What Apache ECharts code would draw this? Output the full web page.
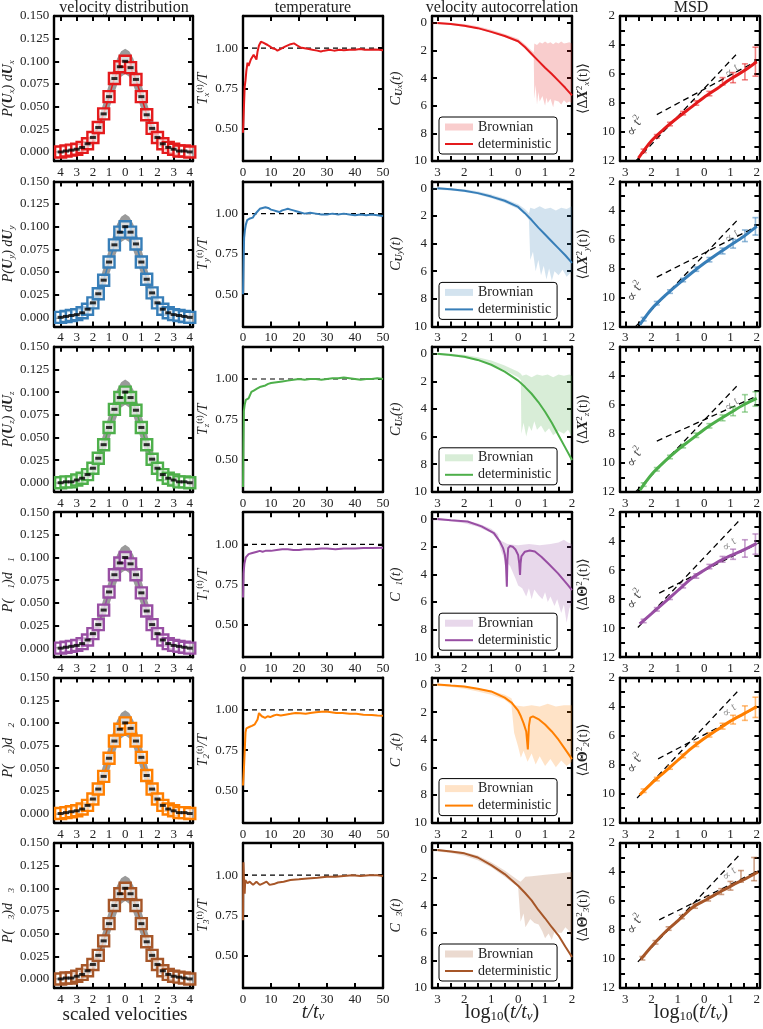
<!DOCTYPE html>
<html><head><meta charset="utf-8">
<script src="https://cdn.jsdelivr.net/npm/echarts@6/dist/echarts.min.js"></script>
<style>html,body{margin:0;padding:0;background:#fff}#c{width:763px;height:1029px}</style>
</head><body><div id="c"></div>
<script>
// ================= DATA =================
const rowTags = ['x','y','z','1','2','3'];
const rowColors = ['#e41a1c','#377eb8','#4daf4a','#984ea3','#ff7f00','#a65628'];
const rowLight = ['rgba(228,26,28,0.22)','rgba(55,126,184,0.22)','rgba(77,175,74,0.22)','rgba(152,78,163,0.22)','rgba(255,127,0,0.22)','rgba(166,86,40,0.22)'];

// tick / label values
const distXTicks = [-4,-3,-2,-1,0,1,2,3,4];
const distYTicks = [0,0.025,0.05,0.075,0.1,0.125,0.15];
const tempXTicks = [0,10,20,30,40,50];
const tempYTicks = [0.5,0.75,1.0];
const logXTicks = [-3,-2.5,-2,-1.5,-1,-0.5,0,0.5,1,1.5,2];
const logXLabels = [-3,-2,-1,0,1,2];
const vacfYTicks = [0,2,4,6,8,10];
const msdYTicks = [2,3,4,5,6,7,8,9,10,11,12];
const msdYLabels = [2,4,6,8,10,12];

// velocity distribution
const distX = [-4,-3.667,-3.333,-3,-2.667,-2.333,-2,-1.667,-1.333,-1,-0.667,-0.333,0,0.333,0.667,1,1.333,1.667,2,2.333,2.667,3,3.333,3.667,4];
const distPx = [0.000,0.001,0.002,0.003,0.005,0.009,0.016,0.027,0.042,0.061,0.081,0.094,0.100,0.093,0.080,0.061,0.041,0.026,0.016,0.009,0.005,0.003,0.001,0.001,0.000];
const distPy = [0.000,0.001,0.002,0.003,0.005,0.009,0.016,0.026,0.041,0.061,0.080,0.094,0.100,0.094,0.081,0.061,0.042,0.027,0.016,0.009,0.005,0.003,0.002,0.001,0.000];
const distPz = [0.000,0.001,0.001,0.003,0.005,0.009,0.016,0.027,0.042,0.061,0.081,0.094,0.100,0.094,0.080,0.061,0.042,0.026,0.016,0.009,0.005,0.003,0.001,0.001,0.000];
const distP1 = [0.000,0.001,0.002,0.003,0.005,0.009,0.016,0.026,0.042,0.062,0.081,0.094,0.100,0.093,0.081,0.061,0.041,0.026,0.016,0.009,0.005,0.003,0.002,0.001,0.000];
const distP2 = [0.000,0.001,0.002,0.003,0.005,0.009,0.016,0.027,0.041,0.061,0.080,0.093,0.100,0.094,0.080,0.062,0.042,0.027,0.016,0.009,0.005,0.003,0.001,0.001,0.000];
const distP3 = [0.000,0.001,0.001,0.003,0.005,0.009,0.016,0.026,0.042,0.061,0.081,0.094,0.100,0.094,0.081,0.061,0.041,0.026,0.016,0.009,0.005,0.003,0.002,0.001,0.000];
// grey reference band (upper / lower edge)
const bandX  = [-4.4,-4,-3.5,-3,-2.5,-2,-1.5,-1,-0.75,-0.5,-0.25,0,0.25,0.5,0.75,1,1.5,2,2.5,3,3.5,4,4.2];
const bandHi = [0.000,0.001,0.001,0.003,0.009,0.021,0.045,0.075,0.090,0.103,0.111,0.114,0.111,0.103,0.090,0.075,0.045,0.021,0.009,0.003,0.001,0.001,0.000];
const bandLo = [-0.001,-0.001,-0.001,0.000,0.002,0.008,0.021,0.047,0.061,0.074,0.083,0.086,0.083,0.074,0.061,0.047,0.021,0.008,0.002,0.000,-0.001,-0.001,-0.001];

// temperature [t/t_nu, T/T]
const tempX = [[0,0.475],[0.3,0.62],[0.6,0.76],[0.9,0.80],[1.2,0.86],[1.6,0.91],[2.0,0.89],[2.4,0.90],[2.8,0.93],[3.3,0.94],[3.8,0.96],[4.2,0.955],[4.8,0.93],[5.2,0.98],[5.7,1.017],[6.4,1.04],[7.2,1.035],[7.9,1.03],[8.8,1.02],[9.7,1.01],[10.5,1.0],[11.5,0.995],[12.3,0.985],[13,0.978],[14,1.0],[15,1.01],[15.7,1.017],[17,1.025],[18.2,1.03],[19.4,1.017],[20.5,1.005],[22,1.0],[23.5,0.995],[24.8,0.99],[26.5,0.985],[27.8,0.98],[29,0.985],[30.9,0.99],[32.5,0.985],[34.5,0.99],[36,0.988],[38,0.99],[40,0.99],[41.8,0.995],[43.5,0.99],[45.4,0.99],[47,0.992],[48.5,0.99],[50,0.988]];
const tempY = [[0,0.5],[0.2,0.7],[0.4,0.85],[0.7,0.9],[1,0.93],[1.5,0.96],[2,0.95],[2.5,0.97],[3,0.98],[3.5,0.975],[4,0.99],[4.5,1.0],[5,1.01],[5.5,1.02],[6,1.03],[7,1.035],[8,1.04],[9,1.035],[10,1.025],[11,1.02],[12,1.015],[13,1.01],[14,1.02],[15,1.025],[16,1.03],[17,1.025],[18,1.02],[19,1.015],[20,1.01],[22,1.0],[24,1.005],[26,1.0],[28,0.995],[30,0.995],[32,1.0],[34,0.995],[36,1.0],[38,0.995],[40,0.99],[42,0.995],[44,0.99],[46,0.995],[48,0.99],[50,0.985]];
const tempZ = [[0,0.33],[0.15,0.6],[0.3,0.8],[0.6,0.84],[1,0.87],[1.5,0.88],[2,0.88],[2.5,0.9],[3,0.92],[3.5,0.91],[4,0.93],[5,0.94],[6,0.95],[7,0.955],[8,0.96],[9,0.97],[10,0.975],[12,0.98],[14,0.985],[16,0.99],[18,0.995],[20,1.0],[22,0.995],[24,1.0],[26,1.0],[28,0.995],[30,1.0],[32,1.005],[34,1.005],[36,1.01],[38,1.005],[40,1.0],[42,0.995],[44,1.0],[46,1.0],[48,1.005],[50,1.0]];
const temp1 = [[0,0.67],[0.2,0.82],[0.5,0.88],[1,0.92],[1.5,0.93],[2,0.94],[3,0.945],[4,0.95],[5,0.955],[6,0.96],[7,0.955],[8,0.96],[10,0.96],[12,0.965],[14,0.97],[16,0.97],[18,0.965],[20,0.965],[22,0.97],[25,0.97],[28,0.975],[30,0.975],[33,0.97],[36,0.975],[40,0.975],[43,0.978],[46,0.978],[50,0.98]];
const temp2 = [[0,0.53],[0.3,0.62],[0.6,0.74],[0.9,0.86],[1.2,0.885],[1.8,0.88],[2.4,0.895],[3.2,0.9],[4.2,0.91],[4.8,0.92],[5.2,0.94],[5.7,0.98],[6.2,0.97],[6.7,0.96],[7.3,0.955],[7.9,0.95],[8.8,0.96],[9.7,0.955],[11,0.965],[12.1,0.97],[13.5,0.965],[15.1,0.97],[17,0.975],[18.8,0.98],[20.5,0.978],[22.4,0.975],[24,0.98],[26,0.985],[28,0.988],[29.7,0.99],[31.5,0.985],[33.3,0.98],[35.5,0.98],[38.1,0.975],[40.5,0.975],[43,0.97],[46,0.968],[48,0.965],[50,0.963]];
const temp3 = [[0,0.72],[0.15,1.08],[0.4,0.95],[0.6,0.885],[0.8,0.97],[1.2,0.97],[1.6,0.95],[2.4,0.96],[3.6,0.94],[4.8,0.96],[6,0.94],[7.2,0.95],[8.4,0.96],[9.5,0.94],[11,0.945],[12.5,0.955],[14.5,0.96],[16.9,0.97],[20,0.975],[23,0.98],[26.6,0.985],[30,0.99],[33,0.99],[36,0.995],[39,1.0],[42,0.995],[45,1.0],[48,1.0],[50,0.995]];

// velocity autocorrelation, deterministic [log10 t, value]
const detX = [[-3,0],[-2.5,0.08],[-2,0.2],[-1.5,0.38],[-1,0.65],[-0.5,0.95],[0,1.33],[0.25,1.75],[0.5,2.25],[0.75,2.75],[1,3.25],[1.25,3.7],[1.5,4.2],[1.75,4.7],[2,5.25]];
const detY = [[-3,0],[-2.5,0.07],[-2,0.18],[-1.5,0.35],[-1,0.6],[-0.5,0.9],[0,1.35],[0.25,1.8],[0.5,2.3],[0.75,2.85],[1,3.35],[1.25,3.85],[1.5,4.35],[1.75,4.85],[2,5.4]];
const detZ = [[-3,0],[-2.5,0.1],[-2,0.22],[-1.5,0.45],[-1,0.8],[-0.5,1.3],[0,1.95],[0.25,2.4],[0.5,2.9],[0.75,3.5],[1,4.2],[1.25,5.0],[1.5,5.9],[1.75,6.8],[2,7.7]];
const det1 = [[-3,0],[-2.5,0.08],[-1.88,0.17],[-1.36,0.53],[-0.9,1.02],[-0.68,1.63],[-0.56,2.1],[-0.49,2.6],[-0.45,3.4],[-0.42,4.9],[-0.40,3.0],[-0.37,2.1],[-0.3,1.95],[-0.2,2.0],[-0.1,2.2],[0,2.6],[0.04,3.2],[0.07,4.05],[0.09,3.2],[0.12,2.7],[0.25,2.36],[0.43,2.28],[0.62,2.35],[0.86,2.72],[1.11,3.2],[1.48,3.93],[1.85,4.78],[2,5.15]];
const det2 = [[-3,0],[-2.5,0.08],[-2,0.15],[-1.5,0.3],[-1,0.5],[-0.5,0.95],[-0.25,1.3],[0,1.9],[0.1,2.3],[0.2,2.8],[0.3,3.4],[0.36,4.7],[0.4,3.0],[0.45,2.4],[0.55,2.3],[0.75,2.5],[1,2.9],[1.25,3.4],[1.5,4.0],[1.75,4.7],[2,5.4]];
const det3 = [[-3,0],[-2.5,0.12],[-2,0.25],[-1.5,0.55],[-1,1.1],[-0.5,1.75],[0,2.6],[0.25,3.1],[0.5,3.65],[0.75,4.35],[1,4.95],[1.25,5.6],[1.5,6.2],[1.75,7.0],[2,7.75]];
// Brownian envelope: upper edge (small values) and lower edge (large values)
const brTopX = [[-3.2,-0.05],[-3,-0.05],[-2.5,0.0],[-2,0.08],[-1.5,0.25],[-1,0.5],[-0.5,0.8],[0,1.15],[0.25,1.55],[0.5,2.0],[0.58,2.15],[0.6,1.5],[0.7,1.6],[0.8,1.4],[0.9,1.5],[1.0,1.35],[1.1,1.5],[1.2,1.4],[1.3,1.55],[1.4,1.4],[1.5,1.5],[1.6,1.35],[1.7,1.5],[1.8,1.45],[1.9,1.4],[2.0,1.5]];
const brBotX = [[-3.2,0.1],[-3,0.1],[-2.5,0.15],[-2,0.27],[-1.5,0.45],[-1,0.72],[-0.5,1.02],[0,1.42],[0.25,1.85],[0.5,2.35],[0.58,2.55],[0.6,5.5],[0.65,4.5],[0.7,5.9],[0.75,5.0],[0.8,5.7],[0.9,5.3],[1.0,6.0],[1.05,5.4],[1.1,5.8],[1.2,5.5],[1.3,6.1],[1.35,5.6],[1.5,5.7],[1.6,5.9],[1.7,5.6],[1.8,5.8],[1.9,5.7],[2.0,5.8]];
const brTopY = [[-3.2,-0.05],[-3,-0.05],[-2.5,0],[-2,0.07],[-1.5,0.22],[-1,0.45],[-0.5,0.75],[0,1.15],[0.25,1.5],[0.4,1.8],[0.45,1.4],[0.6,1.5],[0.8,1.3],[1.0,1.5],[1.2,1.4],[1.4,1.6],[1.6,1.4],[1.8,1.5],[2.0,1.3]];
const brBotY = [[-3.2,0.1],[-3,0.1],[-2.5,0.15],[-2,0.27],[-1.5,0.45],[-1,0.72],[-0.5,1.05],[0,1.5],[0.25,1.9],[0.4,2.3],[0.45,5.2],[0.55,4.6],[0.65,6.0],[0.75,5.2],[0.85,6.3],[0.95,5.6],[1.05,6.6],[1.15,5.8],[1.25,6.7],[1.35,6.0],[1.5,6.3],[1.65,5.9],[1.8,6.4],[2.0,6.0]];
const brTopZ = [[-3.2,-0.05],[-3,-0.05],[-2.5,0],[-2,0.08],[-1.5,0.25],[-1,0.5],[-0.5,0.85],[0,1.3],[0.1,1.45],[0.15,1.6],[0.3,1.5],[0.5,1.7],[0.7,1.5],[0.9,1.6],[1.1,1.5],[1.3,1.7],[1.5,1.5],[1.7,1.6],[1.9,1.5],[2.0,1.6]];
const brBotZ = [[-3.2,0.1],[-3,0.1],[-2.5,0.18],[-2,0.3],[-1.5,0.52],[-1,0.82],[-0.5,1.2],[0,1.7],[0.1,1.9],[0.12,5.8],[0.2,5.0],[0.3,6.0],[0.4,5.2],[0.5,5.6],[0.6,4.9],[0.7,5.5],[0.85,5.2],[1.0,5.7],[1.15,5.4],[1.3,5.9],[1.5,5.6],[1.7,5.8],[1.85,5.5],[2.0,6.0]];
const brTop1 = [[-3.2,-0.05],[-3,-0.05],[-2.5,0.02],[-2,0.1],[-1.5,0.3],[-1,0.7],[-0.75,1.1],[-0.7,1.5],[-0.4,1.8],[0,1.9],[0.4,1.8],[0.8,1.9],[1.2,1.8],[1.5,1.7],[1.7,1.5],[1.85,1.7],[2.0,1.8]];
const brBot1 = [[-3.2,0.1],[-3,0.1],[-2.5,0.15],[-2,0.3],[-1.5,0.55],[-1,1.0],[-0.75,1.5],[-0.65,2.2],[-0.5,3.0],[-0.3,3.4],[-0.1,4.3],[0,4.8],[0.15,5.0],[0.3,5.6],[0.4,5.0],[0.5,5.8],[0.6,5.1],[0.75,5.5],[0.9,5.8],[1.0,5.3],[1.1,6.0],[1.2,5.6],[1.35,6.3],[1.45,5.8],[1.6,6.8],[1.7,6.2],[1.8,7.5],[1.9,6.5],[2.0,6.0]];
const brTop2 = [[-3.2,-0.05],[-3,-0.05],[-2.5,0.02],[-2,0.1],[-1.5,0.25],[-1,0.45],[-0.5,0.75],[-0.25,1.0],[-0.15,1.5],[0.2,1.6],[0.5,1.5],[0.8,1.6],[1.1,1.4],[1.4,1.6],[1.7,1.5],[2.0,1.5]];
const brBot2 = [[-3.2,0.1],[-3,0.1],[-2.5,0.18],[-2,0.3],[-1.5,0.5],[-1,0.75],[-0.5,1.1],[-0.25,1.5],[-0.15,3.5],[0,4.5],[0.1,5.3],[0.2,4.8],[0.35,5.6],[0.5,5.0],[0.65,5.8],[0.8,5.2],[1.0,5.9],[1.2,5.4],[1.4,6.0],[1.6,5.5],[1.8,5.9],[2.0,5.6]];
const brTop3 = [[-3.2,-0.05],[-3,-0.05],[-2.5,0.05],[-2,0.15],[-1.5,0.4],[-1,0.9],[-0.5,1.5],[0,2.2],[0.09,2.3],[0.27,1.94],[0.5,1.9],[1.0,1.8],[1.5,1.7],[2.0,1.6]];
const brBot3 = [[-3.2,0.1],[-3,0.12],[-2.5,0.22],[-2,0.42],[-1.5,0.75],[-1,1.25],[-0.5,1.95],[0,2.7],[0.09,5.2],[0.2,4.6],[0.27,5.6],[0.45,5.0],[0.6,5.3],[0.76,5.4],[0.9,5.9],[1.0,6.4],[1.13,6.05],[1.25,6.5],[1.37,5.8],[1.5,6.0],[1.62,6.0],[1.75,5.6],[1.86,5.8],[2.0,6.3]];

// MSD [log10 t, value]
const msdX = [[-2.5,11.8],[-2,10.6],[-1.5,9.75],[-1,9.0],[-0.5,8.3],[0,7.6],[0.5,7.0],[1,6.35],[1.5,5.8],[2,5.15]];
const msdY = [[-2.45,11.9],[-2,10.8],[-1.5,9.9],[-1,9.1],[-0.5,8.35],[0,7.65],[0.5,7.0],[1,6.4],[1.5,5.8],[2,5.1]];
const msdZ = [[-2.45,11.9],[-2,10.8],[-1.5,9.9],[-1,9.1],[-0.5,8.4],[0,7.7],[0.5,7.1],[1,6.55],[1.5,6.0],[2,5.55]];
const msd1 = [[-2.45,9.7],[-2,9.0],[-1.5,8.2],[-1,7.4],[-0.5,6.6],[0,6.0],[0.5,5.45],[1,5.0],[1.5,4.6],[2,4.15]];
const msd2 = [[-2.45,10.1],[-2,9.3],[-1.5,8.5],[-1,7.7],[-0.5,6.9],[0,6.2],[0.5,5.6],[1,5.0],[1.5,4.5],[2,4.0]];
const msd3 = [[-2.4,10.0],[-1.9,8.93],[-1.4,8.0],[-0.9,7.2],[-0.41,6.4],[0.09,5.9],[0.58,5.4],[1.08,4.9],[1.58,4.46],[2.05,4.0]];
// error bars [log10 t, value, half-width]
const errX = [[-2.3,11.3,0.12],[-1.8,10.3,0.12],[-1.3,9.45,0.12],[-0.8,8.7,0.12],[-0.3,8.0,0.15],[0.2,7.35,0.15],[0.7,6.5,0.25],[1.1,6.25,0.35],[1.55,5.85,0.55],[1.95,5.15,1.0]];
const errY = [[-2.3,11.5,0.12],[-1.8,10.4,0.12],[-1.3,9.6,0.12],[-0.8,8.8,0.12],[-0.3,8.05,0.15],[0.2,7.4,0.15],[0.7,6.8,0.2],[1.1,6.3,0.3],[1.55,5.75,0.4],[1.95,5.1,0.6]];
const errZ = [[-2.3,11.5,0.12],[-1.8,10.45,0.12],[-1.3,9.6,0.12],[-0.8,8.85,0.12],[-0.3,8.1,0.15],[0.2,7.45,0.15],[0.7,6.9,0.2],[1.1,6.45,0.3],[1.55,5.9,0.6],[1.95,5.6,0.5]];
const err1 = [[-2.3,9.5,0.12],[-1.8,8.7,0.12],[-1.3,7.9,0.12],[-0.8,7.1,0.12],[-0.3,6.4,0.15],[0.2,5.75,0.15],[0.7,5.25,0.2],[1.1,4.9,0.35],[1.55,4.5,0.6],[1.95,4.2,0.7]];
const err2 = [[-2.3,9.8,0.12],[-1.8,9.0,0.12],[-1.3,8.2,0.12],[-0.8,7.4,0.12],[-0.3,6.6,0.15],[0.2,5.95,0.15],[0.7,5.35,0.2],[1.1,4.9,0.3],[1.55,4.45,0.5],[1.95,4.05,0.7]];
const err3 = [[-2.35,9.95,0.12],[-1.85,8.85,0.12],[-1.35,7.9,0.12],[-0.85,7.1,0.12],[-0.35,6.35,0.15],[0.15,5.85,0.15],[0.65,5.35,0.2],[1.0,4.95,0.3],[1.4,4.3,0.4],[1.9,3.8,0.8]];
// guide lines (proportional to t^2 and t)
const guideT2 = [[[-2.6,12.0],[1.3,4.5]],[[-2.6,12.0],[1.3,4.6]],[[-2.6,12.0],[1.3,4.6]],[[-2.52,9.95],[1.39,2.47]],[[-2.55,10.3],[1.35,2.8]],[[-2.52,10.2],[1.33,2.85]]];
const guideT1 = [[[-1.8,8.8],[2.0,5.1]],[[-1.8,8.6],[2.0,5.1]],[[-1.8,8.5],[2.0,5.4]],[[-1.71,7.58],[2.1,4.1]],[[-1.75,7.6],[2.05,4.0]],[[-1.71,7.3],[2.07,3.9]]];
const labelT2Pos = [[-2.62,9.6],[-2.62,9.6],[-2.62,9.6],[-2.62,8.0],[-2.62,7.9],[-2.62,7.6]];
const labelT1Pos = [[1.05,5.8],[1.05,5.8],[1.05,6.0],[0.95,4.25],[0.95,4.3],[0.95,4.15]];

// ================= BUILD =================
const distRows = [distPx,distPy,distPz,distP1,distP2,distP3];
const tempRows = [tempX,tempY,tempZ,temp1,temp2,temp3];
const detRows  = [detX,detY,detZ,det1,det2,det3];
const brTopRows = [brTopX,brTopY,brTopZ,brTop1,brTop2,brTop3];
const brBotRows = [brBotX,brBotY,brBotZ,brBot1,brBot2,brBot3];
const msdRows = [msdX,msdY,msdZ,msd1,msd2,msd3];
const errRows = [errX,errY,errZ,err1,err2,err3];

const FONT = '"Liberation Serif","DejaVu Serif",serif';
const colLeft = [54,243,432,620], colW = [139,140,140,142];
const TOP0 = 16, STEP = 165.4, H = 145;

const R = {
  i:{fontFamily:FONT,fontStyle:'italic',fontSize:14,color:'#222',lineHeight:16},
  n:{fontFamily:FONT,fontSize:14,color:'#222',lineHeight:16},
  b:{fontFamily:FONT,fontStyle:'italic',fontWeight:'bold',fontSize:14,color:'#222',lineHeight:16},
  bn:{fontFamily:FONT,fontWeight:'bold',fontSize:14,color:'#222',lineHeight:16},
  s:{fontFamily:FONT,fontStyle:'italic',fontSize:9,color:'#222',lineHeight:9,verticalAlign:'bottom',padding:[5,0,0,0]},
  sb:{fontFamily:FONT,fontStyle:'italic',fontWeight:'bold',fontSize:10,color:'#222',lineHeight:10,verticalAlign:'bottom',padding:[5,0,0,0]},
  p:{fontFamily:FONT,fontSize:9,color:'#222',lineHeight:9,verticalAlign:'top',padding:[0,0,5,0]}
};

const grids=[], xAxes=[], yAxes=[], series=[], legends=[];

function panel(row,col,ax){
  const gi = grids.length;
  grids.push({left:colLeft[col], top:TOP0+row*STEP, width:colW[col], height:H});
  const line = {show:true,onZero:false,lineStyle:{color:'#000',width:2.4}};
  const tick = v => ({show:true,inside:true,length:5,customValues:v,lineStyle:{color:'#000',width:2}});
  const lbl = (v,f) => ({show:true,customValues:v,formatter:f,color:'#222',fontFamily:FONT,fontSize:13,margin:5});
  const xi = xAxes.length;
  xAxes.push({type:'value',gridIndex:gi,position:'bottom',min:ax.xmin,max:ax.xmax,axisLine:line,axisTick:tick(ax.xticks),axisLabel:lbl(ax.xlabels,ax.xfmt),splitLine:{show:false}});
  xAxes.push({type:'value',gridIndex:gi,position:'top',min:ax.xmin,max:ax.xmax,axisLine:line,axisTick:tick(ax.xticks),axisLabel:{show:false},splitLine:{show:false}});
  const yi = yAxes.length;
  yAxes.push({type:'value',gridIndex:gi,position:'left',min:ax.ymin,max:ax.ymax,inverse:!!ax.inv,axisLine:line,axisTick:tick(ax.yticks),axisLabel:lbl(ax.ylabels,ax.yfmt),splitLine:{show:false},
    name:ax.name,nameLocation:'middle',nameGap:ax.nameGap,nameRotate:90,nameTextStyle:{rich:R}});
  yAxes.push({type:'value',gridIndex:gi,position:'right',min:ax.ymin,max:ax.ymax,inverse:!!ax.inv,axisLine:line,axisTick:tick(ax.yticks),axisLabel:{show:false},splitLine:{show:false}});
  return {xi, yi};
}

function polygonSeries(name, pts, color, xi, yi, z){
  return {type:'custom',name,xAxisIndex:xi,yAxisIndex:yi,z,silent:true,data:pts,encode:{x:0,y:1},
    itemStyle:{color},
    renderItem:(params,api)=>{
      if(params.dataIndex!==0) return null;
      return {type:'polygon',shape:{points:pts.map(p=>api.coord(p))},style:{fill:color}};
    }};
}

const absFmt = v => String(Math.abs(Math.round(v*100)/100));

for(let r=0;r<6;r++){
  const t = rowTags[r], c = rowColors[r], lc = rowLight[r];
  const rot = r>=3;
  // ---- column 1: velocity distribution
  let p = panel(r,0,{xmin:-4.4,xmax:4.2,ymin:-0.01,ymax:0.15,xticks:distXTicks,xlabels:distXTicks,xfmt:absFmt,
    yticks:distYTicks,ylabels:distYTicks,yfmt:v=>v.toFixed(3),nameGap:30,
    name: rot ? `{i|P(}{n|   }{s|${t}}{i|)d}{n|   }{s|${t}}` : `{i|P(}{b|U}{s|${t}}{i|) d}{b|U}{s|${t}}`});
  const bandPoly = bandX.map((x,i)=>[x,bandHi[i]]).concat(bandX.map((x,i)=>[x,bandLo[i]]).reverse());
  series.push(polygonSeries('band'+r, bandPoly, '#9a9a9a', p.xi, p.yi, 1));
  const pts = distX.map((x,i)=>[x,distRows[r][i]]);
  series.push({type:'line',xAxisIndex:p.xi,yAxisIndex:p.yi,data:pts,symbol:'none',lineStyle:{color:c,width:1.5},z:2,silent:true});
  series.push({type:'scatter',xAxisIndex:p.xi,yAxisIndex:p.yi,data:pts,symbol:'rect',symbolSize:11,z:3,silent:true,
    itemStyle:{color:'rgba(255,255,255,0.65)',borderColor:c,borderWidth:2.4,opacity:1}});
  series.push({type:'scatter',xAxisIndex:p.xi,yAxisIndex:p.yi,data:pts,symbol:'rect',symbolSize:[6,3],z:4,silent:true,itemStyle:{color:'#000'}});

  // ---- column 2: temperature
  p = panel(r,1,{xmin:0,xmax:50,ymin:0.3,ymax:1.2,xticks:tempXTicks,xlabels:tempXTicks,xfmt:v=>String(v),
    yticks:tempYTicks,ylabels:tempYTicks,yfmt:v=>v.toFixed(2),nameGap:18,
    name:`{i|T}{s|${t}}{p|(t)}{i|/T}`});
  series.push({type:'line',xAxisIndex:p.xi,yAxisIndex:p.yi,data:[[0,1],[50,1]],symbol:'none',z:2,silent:true,lineStyle:{color:'#000',width:1.2,type:[5,4]}});
  series.push({type:'line',xAxisIndex:p.xi,yAxisIndex:p.yi,data:tempRows[r],symbol:'none',z:3,silent:true,lineStyle:{color:c,width:2}});

  // ---- column 3: velocity autocorrelation
  p = panel(r,2,{xmin:-3.2,xmax:2,ymin:-0.5,ymax:10,inv:true,xticks:logXTicks,xlabels:logXLabels,xfmt:absFmt,
    yticks:vacfYTicks,ylabels:vacfYTicks,yfmt:absFmt,nameGap:28,
    name: rot ? `{i|C}{n|  }{s|${t}}{i|(t)}` : `{i|C}{sb|U}{s|${t}}{i|(t)}`});
  const brPoly = brTopRows[r].concat(brBotRows[r].slice().reverse());
  series.push(polygonSeries('Brownian#'+r, brPoly, lc, p.xi, p.yi, 1));
  series.push({type:'line',name:'deterministic#'+r,xAxisIndex:p.xi,yAxisIndex:p.yi,data:detRows[r],symbol:'none',z:3,silent:true,
    itemStyle:{color:c},lineStyle:{color:c,width:2}});
  legends.push({left:439,top:TOP0+r*STEP+101,orient:'vertical',itemGap:3,itemWidth:28,itemHeight:7,
    padding:[3,6,3,5],borderColor:'#000',borderWidth:1,borderRadius:3,backgroundColor:'#fff',selectedMode:false,
    textStyle:{fontFamily:FONT,fontSize:14,color:'#222'},formatter:n=>n.split('#')[0],
    data:[{name:'Brownian#'+r,icon:'rect',itemStyle:{color:lc}},
          {name:'deterministic#'+r,itemStyle:{opacity:0,color:'rgba(0,0,0,0)',borderWidth:0},lineStyle:{color:c,width:2}}]});

  // ---- column 4: MSD
  p = panel(r,3,{xmin:-3.2,xmax:2.1,ymin:2,ymax:12,inv:true,xticks:logXTicks,xlabels:logXLabels,xfmt:absFmt,
    yticks:msdYTicks,ylabels:msdYLabels,yfmt:absFmt,nameGap:29,
    name: rot ? `{n|⟨Δ}{bn|Θ}{p|2}{s|${t}}{n|(t)⟩}` : `{n|⟨Δ}{b|X}{p|2}{s|${t}}{n|(t)⟩}`});
  const dashed = {color:'#000',width:1.3,type:[6,4]};
  series.push({type:'line',xAxisIndex:p.xi,yAxisIndex:p.yi,data:guideT2[r],symbol:'none',z:2,silent:true,lineStyle:dashed});
  series.push({type:'line',xAxisIndex:p.xi,yAxisIndex:p.yi,data:guideT1[r],symbol:'none',z:2,silent:true,lineStyle:dashed});
  series.push({type:'scatter',xAxisIndex:p.xi,yAxisIndex:p.yi,data:[labelT1Pos[r]],symbolSize:0,z:1,silent:true,
    label:{show:true,position:'inside',rotate:40,formatter:'{n|∝ }{i|t}',rich:{n:{fontFamily:FONT,fontSize:12,color:'#777'},i:{fontFamily:FONT,fontStyle:'italic',fontSize:12,color:'#777'}}}});
  series.push({type:'scatter',xAxisIndex:p.xi,yAxisIndex:p.yi,data:[labelT2Pos[r]],symbolSize:0,z:5,silent:true,
    label:{show:true,position:'inside',rotate:62,formatter:'{n|∝ }{i|t}{p|2}',rich:{n:{fontFamily:FONT,fontSize:14,color:'#222'},i:{fontFamily:FONT,fontStyle:'italic',fontSize:14,color:'#222'},p:{fontFamily:FONT,fontSize:9,color:'#222',verticalAlign:'top',padding:[0,0,7,0]}}}});
  const ec = rowLight[r].replace('0.22','0.55');
  series.push({type:'custom',xAxisIndex:p.xi,yAxisIndex:p.yi,data:errRows[r],encode:{x:0,y:1},z:3,silent:true,
    renderItem:(params,api)=>{
      const x=api.value(0), y=api.value(1), e=api.value(2);
      const a=api.coord([x,y-e]), b=api.coord([x,y+e]); const w=3;
      const st={stroke:ec,lineWidth:1.6};
      return {type:'group',children:[
        {type:'line',shape:{x1:a[0],y1:a[1],x2:b[0],y2:b[1]},style:st},
        {type:'line',shape:{x1:a[0]-w,y1:a[1],x2:a[0]+w,y2:a[1]},style:st},
        {type:'line',shape:{x1:b[0]-w,y1:b[1],x2:b[0]+w,y2:b[1]},style:st}]};
    }});
  series.push({type:'line',xAxisIndex:p.xi,yAxisIndex:p.yi,data:msdRows[r],symbol:'none',smooth:0.3,z:4,silent:true,lineStyle:{color:c,width:3}});
}

// titles and shared axis labels
const txt = (x,y,text,size,rich) => ({type:'text',x,y,silent:true,style:{text,font:`${size}px ${FONT}`,fill:'#222',align:'center',verticalAlign:'middle',textAlign:'center',textVerticalAlign:'middle',rich}});
const bigRich = {i:{fontFamily:FONT,fontStyle:'italic',fontSize:20,color:'#222'},n:{fontFamily:FONT,fontSize:20,color:'#222'},s:{fontFamily:FONT,fontStyle:'italic',fontSize:13,color:'#222',verticalAlign:'bottom',padding:[8,0,0,0]},sn:{fontFamily:FONT,fontSize:13,color:'#222',verticalAlign:'bottom',padding:[8,0,0,0]}};
const graphic = [
  txt(124,8,'velocity distribution',16),
  txt(313,8,'temperature',16),
  txt(502,8,'velocity autocorrelation',16),
  txt(691,8,'MSD',16),
  txt(125,1015,'scaled velocities',19),
  txt(313,1013,'{i|t/t}{s|ν}',20,bigRich),
  txt(502,1013,'{n|log}{sn|10}{n|(}{i|t/t}{s|ν}{n|)}',20,bigRich),
  txt(691,1013,'{n|log}{sn|10}{n|(}{i|t/t}{s|ν}{n|)}',20,bigRich)
];

const chart = echarts.init(document.getElementById('c'),null,{renderer:'canvas',devicePixelRatio:1});
chart.setOption({animation:false,backgroundColor:'#fff',grid:grids,xAxis:xAxes,yAxis:yAxes,series,legend:legends,graphic});
</script></body></html>
